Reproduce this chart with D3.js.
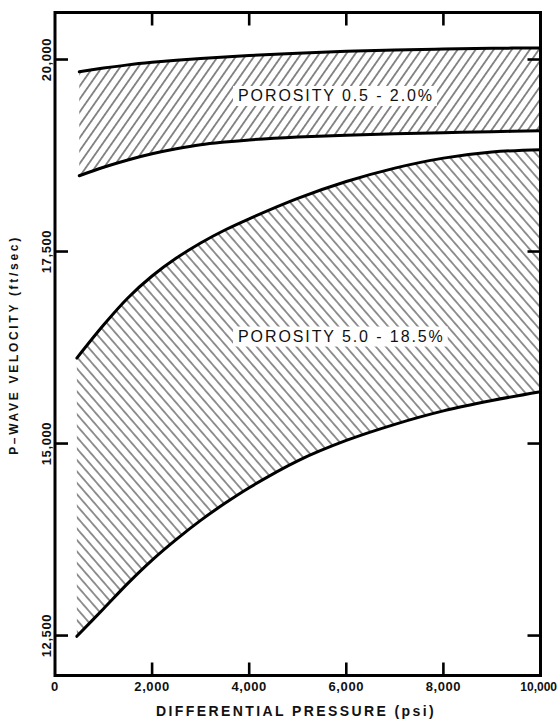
<!DOCTYPE html>
<html>
<head>
<meta charset="utf-8">
<script src="https://cdn.jsdelivr.net/npm/d3@7/dist/d3.min.js"></script>
<style>
  html, body { margin: 0; padding: 0; background: #fff; }
  svg { display: block; }
</style>
</head>
<body>
<script>
// Differential pressure (psi) at which each band edge was sampled
const pressureLowPorosity = [500, 1000, 1500, 2000, 2500, 3000, 3500, 4000, 5000, 6000, 7000, 8000, 9000, 10000];
const pressureHighPorosity = [450, 1000, 1500, 2000, 2500, 3000, 3500, 4000, 5000, 6000, 7000, 8000, 9000, 10000];

// P-wave velocity (ft/sec), porosity 0.5 - 2.0 %
const lowPorosityMax = [19840, 19888, 19930, 19963, 19990, 20013, 20033, 20051, 20082, 20106, 20124, 20137, 20146, 20151];
const lowPorosityMin = [18487, 18597, 18692, 18772, 18837, 18890, 18925, 18953, 18990, 19015, 19033, 19047, 19060, 19072];

// P-wave velocity (ft/sec), porosity 5.0 - 18.5 %
const highPorosityMax = [16113, 16543, 16895, 17181, 17415, 17611, 17780, 17926, 18191, 18411, 18586, 18716, 18796, 18826];
const highPorosityMin = [12490, 12850, 13180, 13483, 13753, 14000, 14222, 14425, 14775, 15040, 15250, 15425, 15560, 15675];

// Axis ticks and text
const xTickValues = [0, 2000, 4000, 6000, 8000, 10000];
const yTickValues = [12500, 15000, 17500, 20000];
const bandLabels = ["POROSITY 0.5 - 2.0%", "POROSITY 5.0 - 18.5%"];
const xTitle = "DIFFERENTIAL PRESSURE (psi)";
const yTitle = "P\u2013WAVE VELOCITY (ft/sec)";

const W = 560, H = 722;
const frame = { left: 55, right: 540.5, top: 12.5, bottom: 675.5 };

const x = d3.scaleLinear().domain([0, 10000]).range([frame.left, frame.right]);
const y = d3.scaleLinear().domain([11980, 20612]).range([frame.bottom, frame.top]);

const svg = d3.select("body").append("svg")
  .attr("width", W).attr("height", H)
  .attr("font-family", "'Liberation Sans', Arial, Helvetica, sans-serif");

svg.append("rect").attr("width", W).attr("height", H).attr("fill", "#fff");

// Diagonal hatch fills
const defs = svg.append("defs");
function hatch(id, angle, gap, width, color) {
  const p = defs.append("pattern")
    .attr("id", id)
    .attr("patternUnits", "userSpaceOnUse")
    .attr("width", gap).attr("height", gap)
    .attr("patternTransform", `rotate(${angle})`);
  p.append("line")
    .attr("x1", gap / 2).attr("y1", -1)
    .attr("x2", gap / 2).attr("y2", gap + 1)
    .attr("stroke", color).attr("stroke-width", width);
}
hatch("hatch-fwd", 35, 7.4, 0.9, "#000");
hatch("hatch-back", -41, 7.5, 0.9, "#111");

const bands = [
  { p: pressureLowPorosity, hi: lowPorosityMax, lo: lowPorosityMin, fill: "url(#hatch-fwd)" },
  { p: pressureHighPorosity, hi: highPorosityMax, lo: highPorosityMin, fill: "url(#hatch-back)" }
];

const curve = d3.curveCatmullRom.alpha(0.5);
const area = d3.area()
  .x(d => x(d.p)).y0(d => y(d.lo)).y1(d => y(d.hi)).curve(curve);
const edge = d3.line().x(d => x(d.p)).y(d => y(d.v)).curve(curve);

const plot = svg.append("g");
bands.forEach(b => {
  const rows = b.p.map((p, i) => ({ p, hi: b.hi[i], lo: b.lo[i] }));
  plot.append("path").attr("d", area(rows)).attr("fill", b.fill).attr("stroke", "none");
});

// Band annotations on a white ground
const labelAnchors = [[3770, 19460], [3770, 16328]];
bandLabels.forEach((t, i) => {
  const g = plot.append("g");
  const txt = g.append("text")
    .attr("x", x(labelAnchors[i][0])).attr("y", y(labelAnchors[i][1]))
    .attr("font-size", 16).attr("letter-spacing", 1.9)
    .attr("fill", "#111")
    .text(t);
  const bb = txt.node().getBBox();
  g.insert("rect", "text")
    .attr("x", bb.x - 5).attr("y", bb.y - 1)
    .attr("width", bb.width + 8).attr("height", bb.height + 3)
    .attr("fill", "#fff");
});

// Band edges
bands.forEach(b => {
  [b.hi, b.lo].forEach(vals => {
    plot.append("path")
      .attr("d", edge(b.p.map((p, i) => ({ p, v: vals[i] }))))
      .attr("fill", "none").attr("stroke", "#000")
      .attr("stroke-width", 3).attr("stroke-linecap", "round")
      .attr("stroke-linejoin", "round");
  });
});

// Frame
svg.append("rect")
  .attr("x", frame.left).attr("y", frame.top)
  .attr("width", frame.right - frame.left).attr("height", frame.bottom - frame.top)
  .attr("fill", "none").attr("stroke", "#000").attr("stroke-width", 3);

// Inward ticks on all four sides
const tickLen = 13;
const innerX = xTickValues.filter(v => v > 0 && v < 10000);
const ticks = svg.append("g").attr("stroke", "#000").attr("stroke-width", 2.6);
innerX.forEach(v => {
  ticks.append("line").attr("x1", x(v)).attr("x2", x(v)).attr("y1", frame.bottom).attr("y2", frame.bottom - tickLen);
  ticks.append("line").attr("x1", x(v)).attr("x2", x(v)).attr("y1", frame.top).attr("y2", frame.top + tickLen);
});
yTickValues.forEach(v => {
  ticks.append("line").attr("x1", frame.left).attr("x2", frame.left + tickLen).attr("y1", y(v)).attr("y2", y(v));
  ticks.append("line").attr("x1", frame.right).attr("x2", frame.right - tickLen).attr("y1", y(v)).attr("y2", y(v));
});

// Tick labels; the last one is set flush right so it stays on the page
const fmt = d3.format(",");
const tickFont = { size: 13, spacing: 0.6 };
const lastX = xTickValues[xTickValues.length - 1];
svg.append("g").selectAll("text").data(xTickValues).join("text")
  .attr("x", d => d === lastX ? W - 3 : x(d)).attr("y", 690.5)
  .attr("text-anchor", d => d === lastX ? "end" : "middle")
  .attr("font-size", d => d === lastX ? 12 : tickFont.size).attr("font-weight", "bold")
  .attr("letter-spacing", d => d === lastX ? 0 : tickFont.spacing)
  .attr("fill", "#111")
  .text(d => fmt(d));

svg.append("g").selectAll("text").data(yTickValues).join("text")
  .attr("x", 51).attr("y", d => y(d))
  .attr("transform", d => `rotate(-90, 51, ${y(d)})`)
  .attr("text-anchor", "middle")
  .attr("font-size", tickFont.size).attr("font-weight", "bold")
  .attr("letter-spacing", tickFont.spacing)
  .attr("fill", "#111")
  .text(d => fmt(d));

// Axis titles
svg.append("text")
  .attr("x", 296).attr("y", 716)
  .attr("text-anchor", "middle")
  .attr("font-size", 14).attr("font-weight", "bold").attr("letter-spacing", 2.4)
  .attr("fill", "#111")
  .text(xTitle);

svg.append("text")
  .attr("x", 17.5).attr("y", 345)
  .attr("transform", "rotate(-90, 17.5, 345)")
  .attr("text-anchor", "middle")
  .attr("font-size", 12).attr("font-weight", "bold").attr("letter-spacing", 2.7)
  .attr("fill", "#111")
  .text(yTitle);
</script>
</body>
</html>
